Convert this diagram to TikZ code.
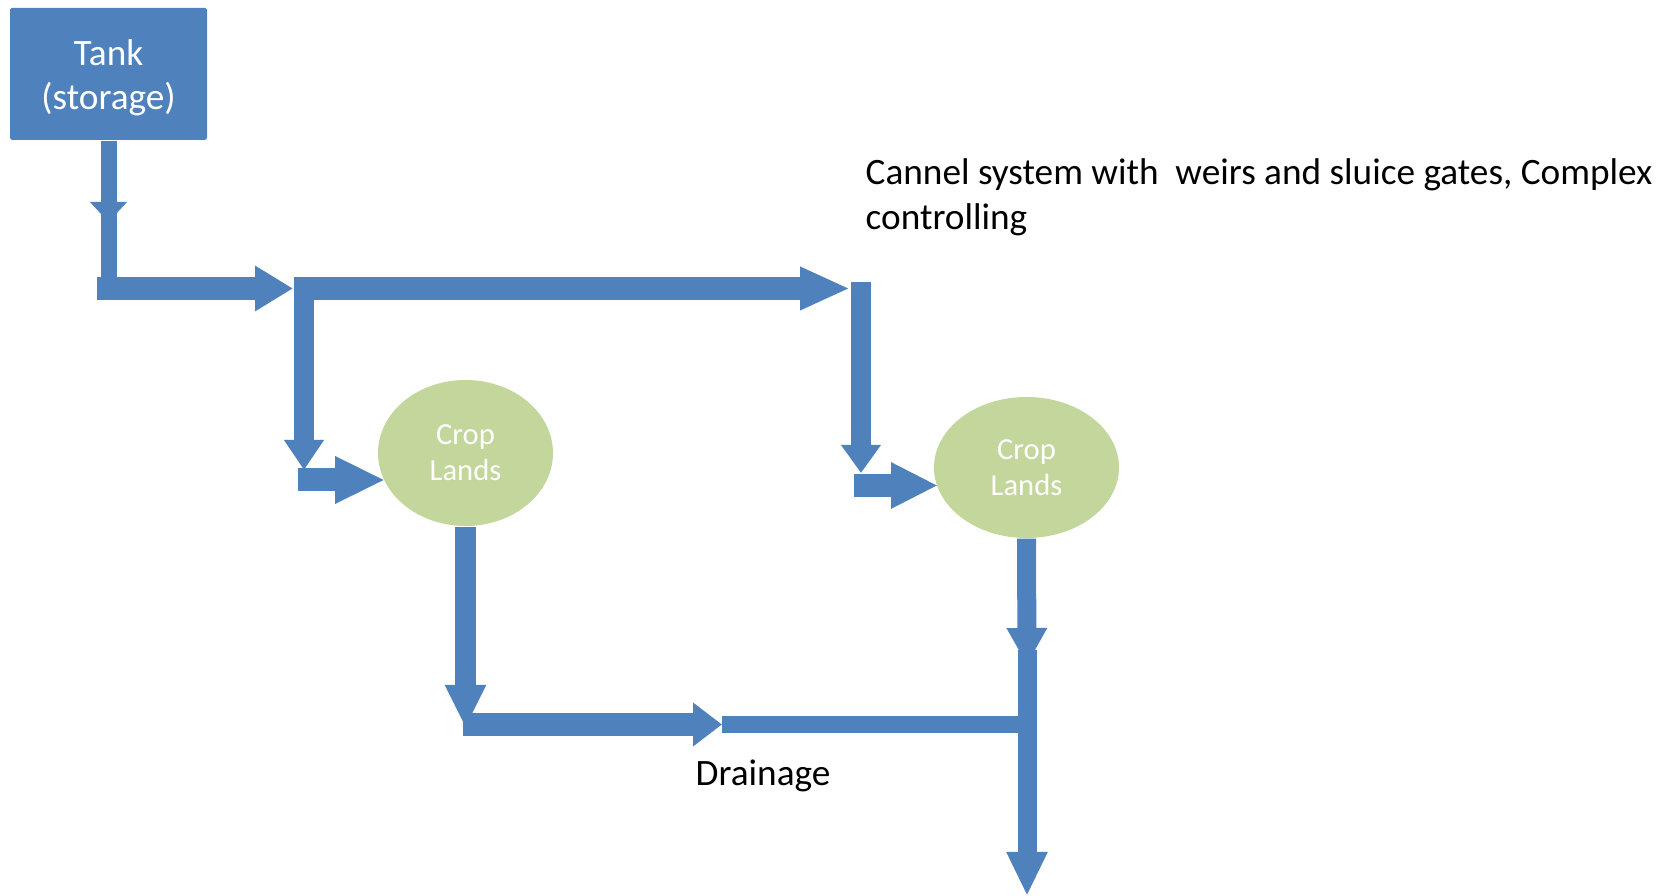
\documentclass[tikz,border=0pt]{standalone}
\usepackage{fontspec}
\setmainfont{Carlito}
\usetikzlibrary{arrows.meta,shapes.geometric}
\definecolor{pipeblue}{HTML}{4F81BD}
\definecolor{cropgreen}{HTML}{C3D69B}
\begin{document}
\begin{tikzpicture}[
    pipe/.style={draw=pipeblue, line width=#1},
    flowhead/.style 2 args={arrows={-{Triangle[width=#1,length=#2]}}},
    crop/.style={ellipse, fill=cropgreen, text=white, inner sep=0pt, align=center, font=\fontsize{8.7}{10.2}\selectfont},
    label/.style={font=\fontsize{10.6}{12.8}\selectfont, align=left, inner sep=0pt}]
    \useasboundingbox (0,0) rectangle (16.71,-8.96);
    \node[fill=pipeblue, rounded corners=0.5pt, minimum width=1.97cm, minimum height=1.32cm] (tank) at (1.085,-0.74) {};
    \node[text=white, align=center, font=\fontsize{10.6}{12.6}\selectfont] (tanktext) at ([yshift=-0.04cm]tank.center) {Tank\\(storage)};
    \node[crop, minimum width=1.75cm, minimum height=1.46cm] (crop1) at (4.655,-4.53) {Crop\\Lands};
    \node[crop, minimum width=1.85cm, minimum height=1.41cm] (crop2) at (10.265,-4.675) {Crop\\Lands};
    \node[label, anchor=west] (canal) at (8.65,-1.975) {Cannel system with \ weirs and sluice gates, Complex\\controlling};
    \node[label] (drain) at (7.63,-7.76) {Drainage};
    \coordinate (a1) at (1.085,-2.22);
    \coordinate (a2) at (1.085,-2.13);
    \coordinate (a3) at (1.085,-2.885);
    \coordinate (b0) at (0.97,-2.885);
    \coordinate (b1) at (2.93,-2.885);
    \coordinate (j1) at (2.94,-2.885);
    \coordinate (c1) at (8.50,-2.885);
    \coordinate (j2) at (3.04,-2.77);
    \coordinate (j3) at (3.04,-4.70);
    \coordinate (j4) at (2.98,-4.80);
    \coordinate (inA) at (3.85,-4.80);
    \coordinate (k1) at (8.61,-2.82);
    \coordinate (k2) at (8.61,-4.73);
    \coordinate (k3) at (8.54,-4.855);
    \coordinate (inB) at (9.38,-4.855);
    \coordinate (d1) at (4.655,-7.28);
    \coordinate (d2) at (4.63,-7.245);
    \coordinate (d3) at (7.22,-7.245);
    \coordinate (d4) at (10.27,-7.245);
    \coordinate (e1) at (10.27,-6.65);
    \coordinate (e2) at (10.27,-6.50);
    \coordinate (out) at (10.27,-8.96);
    \draw[pipe=0.16cm, flowhead={0.36cm}{0.20cm}] (tank.south) -- (a1);
    \draw[pipe=0.16cm] (a2) -- (a3);
    \draw[pipe=0.23cm, flowhead={0.43cm}{0.38cm}] (b0) -- (b1);
    \draw[pipe=0.23cm, flowhead={0.40cm}{0.50cm}] (j1) -- (c1);
    \draw[pipe=0.20cm, flowhead={0.38cm}{0.30cm}] (j2) -- (j3);
    \draw[pipe=0.23cm, flowhead={0.44cm}{0.50cm}] (j4) -- (inA);
    \draw[pipe=0.20cm, flowhead={0.38cm}{0.28cm}] (k1) -- (k2);
    \draw[pipe=0.23cm, flowhead={0.43cm}{0.47cm}] (k3) -- (inB);
    \draw[pipe=0.21cm, flowhead={0.38cm}{0.43cm}] (crop1.south) -- (d1);
    \draw[pipe=0.23cm, flowhead={0.42cm}{0.29cm}] (d2) -- (d3);
    \draw[pipe=0.17cm] (d3) -- (d4);
    \draw[pipe=0.19cm, flowhead={0.38cm}{0.37cm}] (crop2.south) -- (e1);
    \draw[pipe=0.19cm, flowhead={0.38cm}{0.44cm}] (e2) -- (out);
\end{tikzpicture}
\end{document}
